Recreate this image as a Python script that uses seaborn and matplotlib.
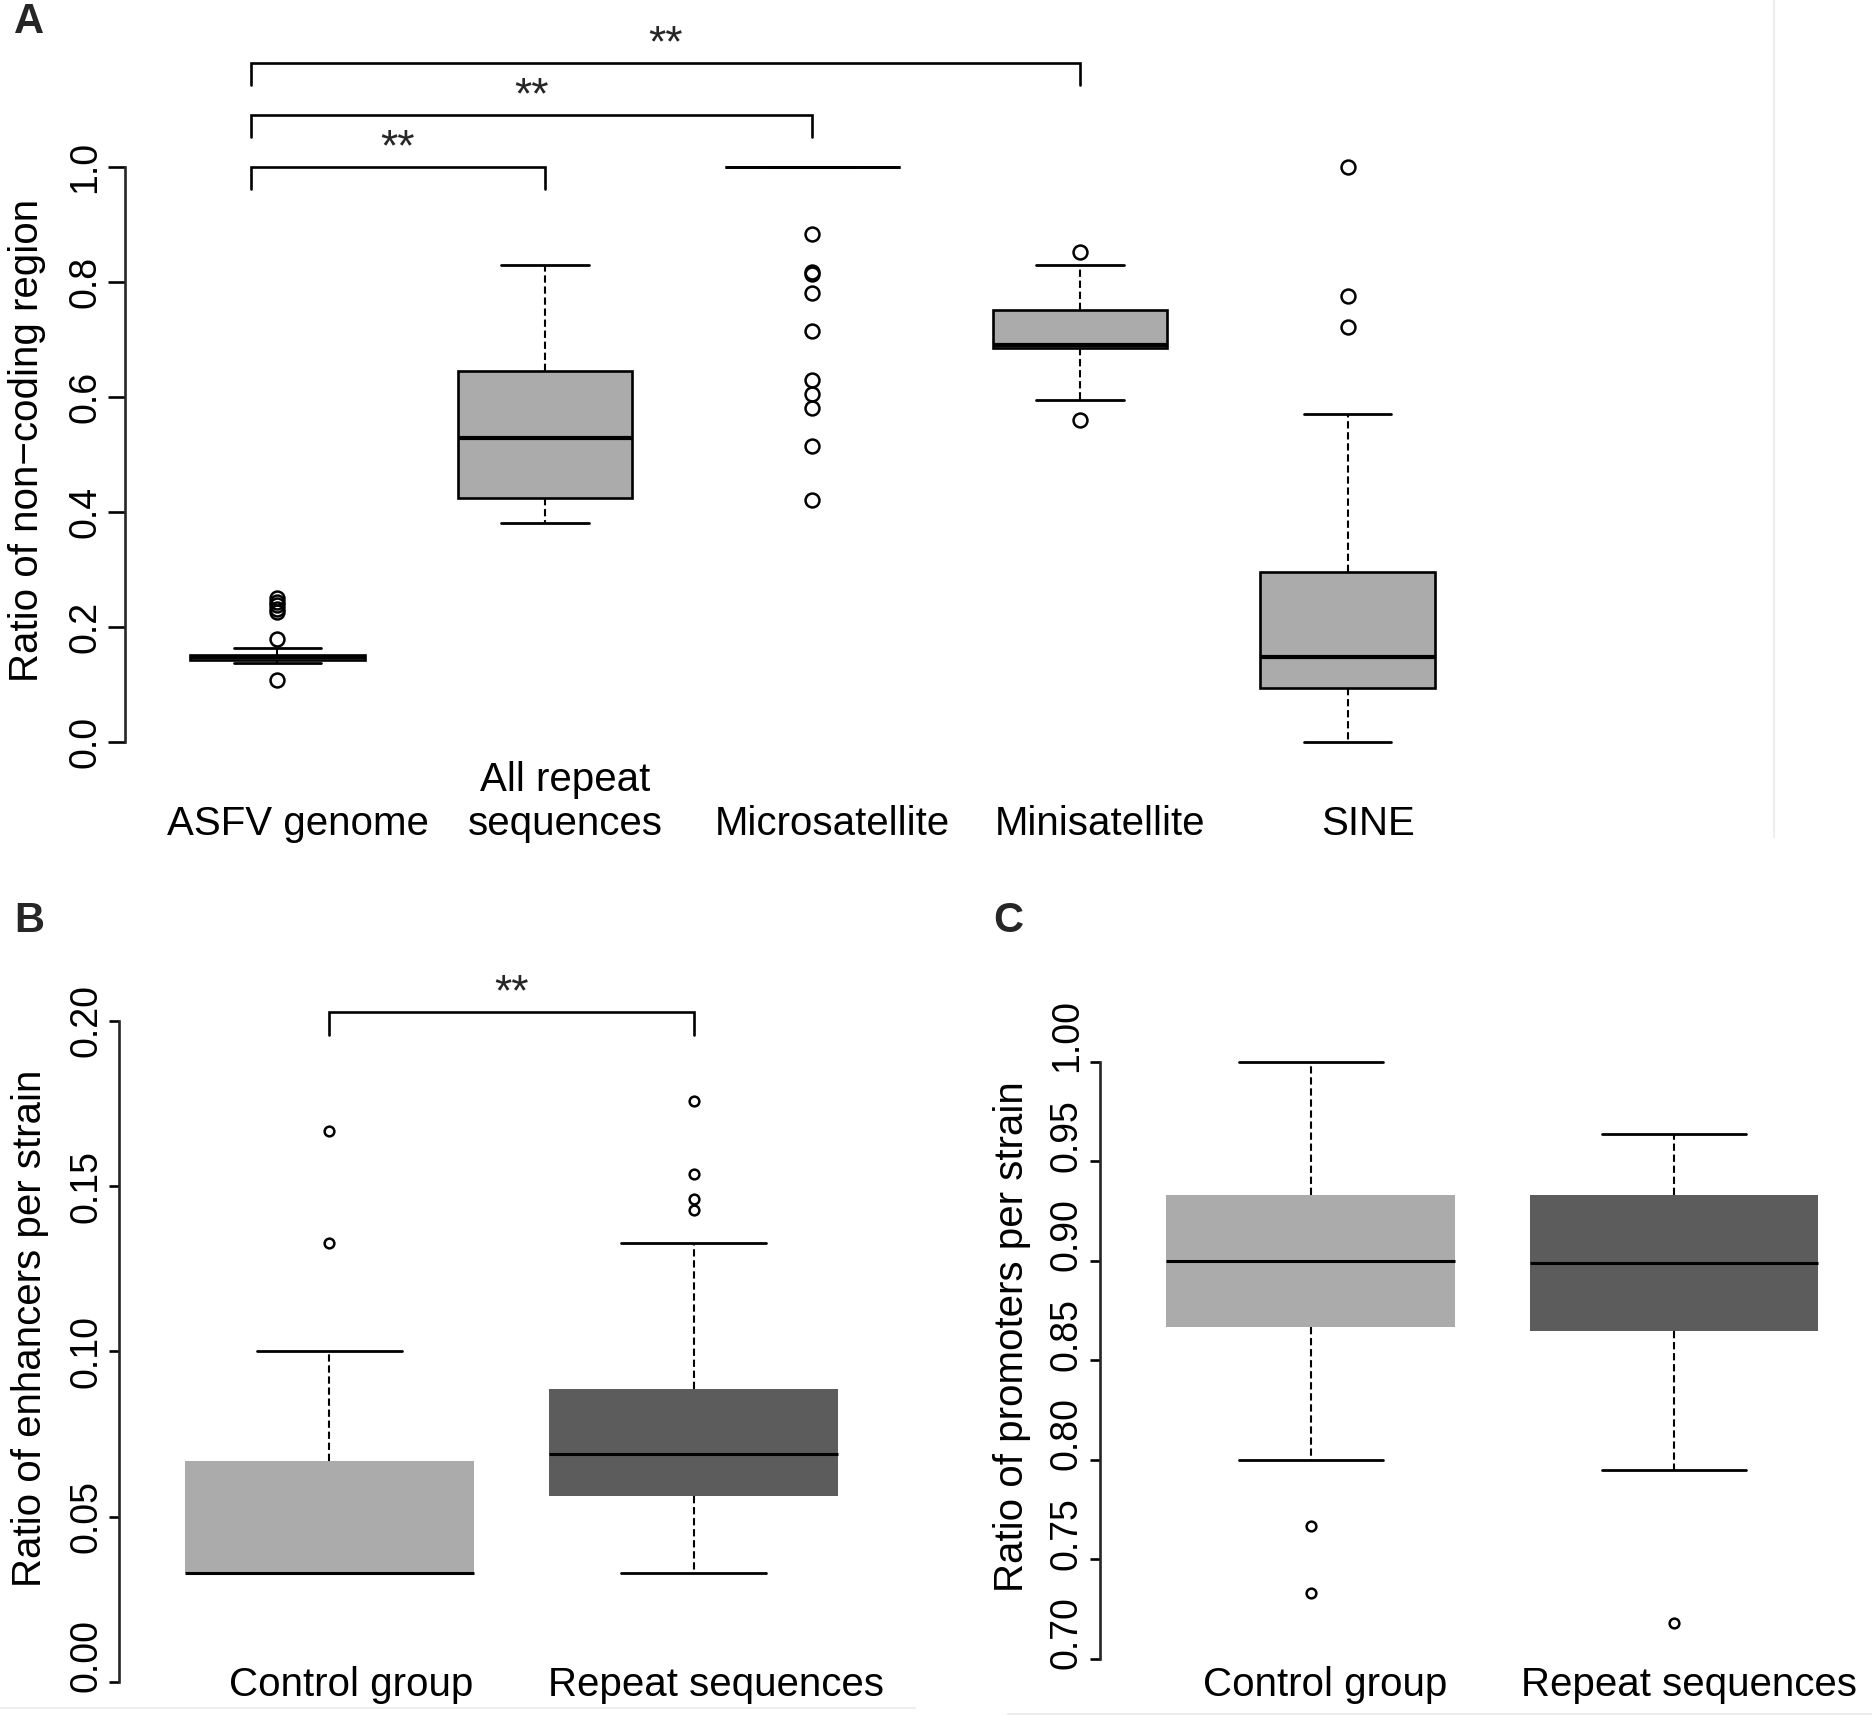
"""
Boxplots of non-coding ratio (A), enhancer ratio (B) and promoter ratio (C)
for ASFV genome vs repeat sequence classes, drawn in an R base-graphics look.
"""

import matplotlib
matplotlib.use("Agg")
import matplotlib.pyplot as plt
import matplotlib.transforms as mtransforms
from matplotlib.lines import Line2D
import seaborn as sns

# ─────────────────────────────────────────────────────────────────────────────
W, H, DPI = 1872, 1722, 100

# ── Panel A: ratio of non-coding region ──────────────────────────────────────
A_GROUPS = ["ASFV genome", "All repeat\nsequences", "Microsatellite",
            "Minisatellite", "SINE"]
A_WHISLO = [0.137, 0.381, 1.000, 0.595, 0.000]
A_Q1     = [0.143, 0.425, 1.000, 0.685, 0.094]
A_MED    = [0.148, 0.528, 1.000, 0.690, 0.147]
A_Q3     = [0.152, 0.645, 1.000, 0.751, 0.296]
A_WHISHI = [0.164, 0.830, 1.000, 0.829, 0.570]
A_FLIERS = [
    [0.108, 0.179, 0.226, 0.232, 0.238, 0.244, 0.250],
    [],
    [0.883, 0.818, 0.814, 0.781, 0.715, 0.630, 0.605, 0.580, 0.514, 0.421],
    [0.852, 0.560],
    [1.000, 0.776, 0.722],
]
A_TESTS  = [(0, 1, "**"), (0, 2, "**"), (0, 3, "**")]
A_YTICKS = [0.0, 0.2, 0.4, 0.6, 0.8, 1.0]

# ── Panel B: ratio of enhancers per strain ───────────────────────────────────
B_GROUPS = ["Control group", "Repeat sequences"]
B_WHISLO = [0.0331, 0.0331]
B_Q1     = [0.0331, 0.0563]
B_MED    = [0.0331, 0.0689]
B_Q3     = [0.0669, 0.0886]
B_WHISHI = [0.1000, 0.1328]
B_FLIERS = [[0.1328, 0.1667], [0.1757, 0.1538, 0.1462, 0.1427]]
B_TESTS  = [(0, 1, "**")]
B_YTICKS = [0.00, 0.05, 0.10, 0.15, 0.20]

# ── Panel C: ratio of promoters per strain ───────────────────────────────────
C_GROUPS = ["Control group", "Repeat sequences"]
C_WHISLO = [0.800, 0.795]
C_Q1     = [0.867, 0.865]
C_MED    = [0.900, 0.899]
C_Q3     = [0.933, 0.933]
C_WHISHI = [1.000, 0.964]
C_FLIERS = [[0.767, 0.733], [0.718]]
C_YTICKS = [0.70, 0.75, 0.80, 0.85, 0.90, 0.95, 1.00]

LIGHT_GREY = "#ababab"
DARK_GREY  = "#5c5c5c"


# ─────────────────────────────────────────────────────────────────────────────
def px_axes(fig, left, top, right, bottom):
    """Axes placed by pixel edges (origin top-left)."""
    return fig.add_axes([left / W, 1 - bottom / H,
                         (right - left) / W, (bottom - top) / H])


def make_stats(groups, lo, q1, med, q3, hi, fliers):
    return [dict(label=g, whislo=a, q1=b, med=c, q3=d, whishi=e, fliers=f)
            for g, a, b, c, d, e, f in zip(groups, lo, q1, med, q3, hi, fliers)]


def draw_boxes(ax, stats, width, faces, outlined, ms):
    pos = list(range(len(stats)))
    edge_lw = 1.9 if outlined else 0
    art = ax.bxp(
        stats, positions=pos, widths=width, capwidths=width / 2,
        patch_artist=True, showfliers=True,
        boxprops=dict(linewidth=edge_lw, edgecolor="black"),
        medianprops=dict(color="black", linewidth=3.0 if outlined else 2.2),
        whiskerprops=dict(color="black", linewidth=1.5, linestyle=(0, (3.5, 1.8))),
        capprops=dict(color="black", linewidth=2.0),
        flierprops=dict(marker="o", markerfacecolor="none", markeredgecolor="black",
                        markersize=ms, markeredgewidth=1.8, linestyle="none"),
    )
    for patch, fc in zip(art["boxes"], faces):
        patch.set_facecolor(fc)
        if not outlined:
            patch.set_edgecolor(fc)
    # a box collapsed to a single value reads as a plain line
    for line, st in zip(art["medians"], stats):
        if st["q1"] == st["q3"]:
            line.set_linewidth(2.0)
    return pos


def bracket(ax, x0, x1, y, drop, label):
    ax.plot([x0, x0, x1, x1], [y - drop, y, y, y - drop], color="black",
            lw=1.9, clip_on=False, solid_joinstyle="miter")
    ax.annotate(label, ((x0 + x1) / 2, y), xytext=(0, 5),
                textcoords="offset points", ha="center", va="baseline",
                fontsize=32)


def style_axes(ax, yticks, fmt, tick_len, label_pad, lifted=()):
    sns.despine(ax=ax, bottom=True)
    ax.spines["left"].set_linewidth(1.9)
    ax.spines["left"].set_bounds(yticks[0], yticks[-1])
    ax.set_yticks(yticks, [fmt.format(t) for t in yticks], rotation=90, va="center")
    ax.tick_params(axis="y", length=tick_len, width=1.9, pad=3.6, labelsize=27,
                   color="black", labelcolor="black")
    ax.tick_params(axis="x", length=0, pad=label_pad, labelsize=29,
                   labelcolor="black")
    # some tick labels sit a little above their tick in the original figure
    lift = mtransforms.ScaledTranslation(0, 0.26, ax.figure.dpi_scale_trans)
    labels = ax.get_yticklabels()
    for k in lifted:
        labels[k].set_transform(labels[k].get_transform() + lift)
    ax.set_facecolor("none")


# ─────────────────────────────────────────────────────────────────────────────
sns.set_theme(style="ticks")
plt.rcParams["font.family"] = ["Liberation Sans", "DejaVu Sans"]

fig = plt.figure(figsize=(W / DPI, H / DPI), dpi=DPI)
fig.patch.set_facecolor("white")

# ── Panel A ──────────────────────────────────────────────────────────────────
axA = px_axes(fig, 125, 10, 1500, 770)
statsA = make_stats(A_GROUPS, A_WHISLO, A_Q1, A_MED, A_Q3, A_WHISHI, A_FLIERS)
posA = draw_boxes(axA, statsA, 0.654, [LIGHT_GREY] * len(A_GROUPS), True, 10)
axA.set_xlim(-0.57, 4.57)
axA.set_ylim(-0.0487, 1.273)
style_axes(axA, A_YTICKS, "{:.1f}", 12.2, 52.9)
axA.set_xticks([p + 0.075 for p in posA], A_GROUPS, va="bottom", ma="center")
axA.set_ylabel("Ratio of non\u2212coding region", fontsize=29, va="center",
               color="black")
axA.yaxis.set_label_coords((27 - 125) / 1375, (770 - 440) / 760)
for k, (i, j, lab) in enumerate(A_TESTS):
    bracket(axA, posA[i] - 0.1, posA[j], 1.0 + 0.09 * k, 0.038, lab)

# ── Panel B ──────────────────────────────────────────────────────────────────
axB = px_axes(fig, 119, 938, 904, 1682)
statsB = make_stats(B_GROUPS, B_WHISLO, B_Q1, B_MED, B_Q3, B_WHISHI, B_FLIERS)
posB = draw_boxes(axB, statsB, 0.794, [LIGHT_GREY, DARK_GREY], False, 7)
axB.set_xlim(-0.577, 1.577)
axB.set_ylim(0, 0.2251)
style_axes(axB, B_YTICKS, "{:.2f}", 7.2, 16.2, lifted=[0])
axB.set_xticks([p + 0.06 for p in posB], B_GROUPS, va="bottom")
axB.set_ylabel("Ratio of enhancers per strain", fontsize=29, va="center",
               color="black")
axB.yaxis.set_label_coords((30 - 119) / 785, (1682 - 1328) / 744)
for i, j, lab in B_TESTS:
    bracket(axB, posB[i], posB[j], 0.2027, 0.0068, lab)

# ── Panel C ──────────────────────────────────────────────────────────────────
axC = px_axes(fig, 1100, 938, 1874, 1682)
statsC = make_stats(C_GROUPS, C_WHISLO, C_Q1, C_MED, C_Q3, C_WHISHI, C_FLIERS)
posC = draw_boxes(axC, statsC, 0.794, [LIGHT_GREY, DARK_GREY], False, 7)
axC.set_xlim(-0.58, 1.55)
axC.set_ylim(0.6884, 1.0623)
style_axes(axC, C_YTICKS, "{:.2f}", 7.2, 16.2, lifted=range(len(C_YTICKS)))
axC.set_xticks([p + 0.04 for p in posC], C_GROUPS, va="bottom")
axC.set_ylabel("Ratio of promoters per strain", fontsize=29, va="center",
               color="black")
axC.yaxis.set_label_coords((1012 - 1100) / 774, (1682 - 1337) / 744)

# ── Panel letters and faint panel borders ───────────────────────────────────
for x, y, letter in [(29, 22, "A"), (29, 921, "B"), (1008, 921, "C")]:
    fig.text(x / W, 1 - y / H, letter, fontsize=30, fontweight="bold",
             ha="center", va="center")

for xs, ys in [([1774, 1774], [0, 837]), ([0, 915], [1708, 1708]),
               ([1008, 1872], [1714, 1714])]:
    fig.add_artist(Line2D([x / W for x in xs], [1 - y / H for y in ys],
                          transform=fig.transFigure, color="#eeeeee", lw=1.5))

plt.savefig("out.png", dpi=DPI, facecolor="white")
plt.close()
